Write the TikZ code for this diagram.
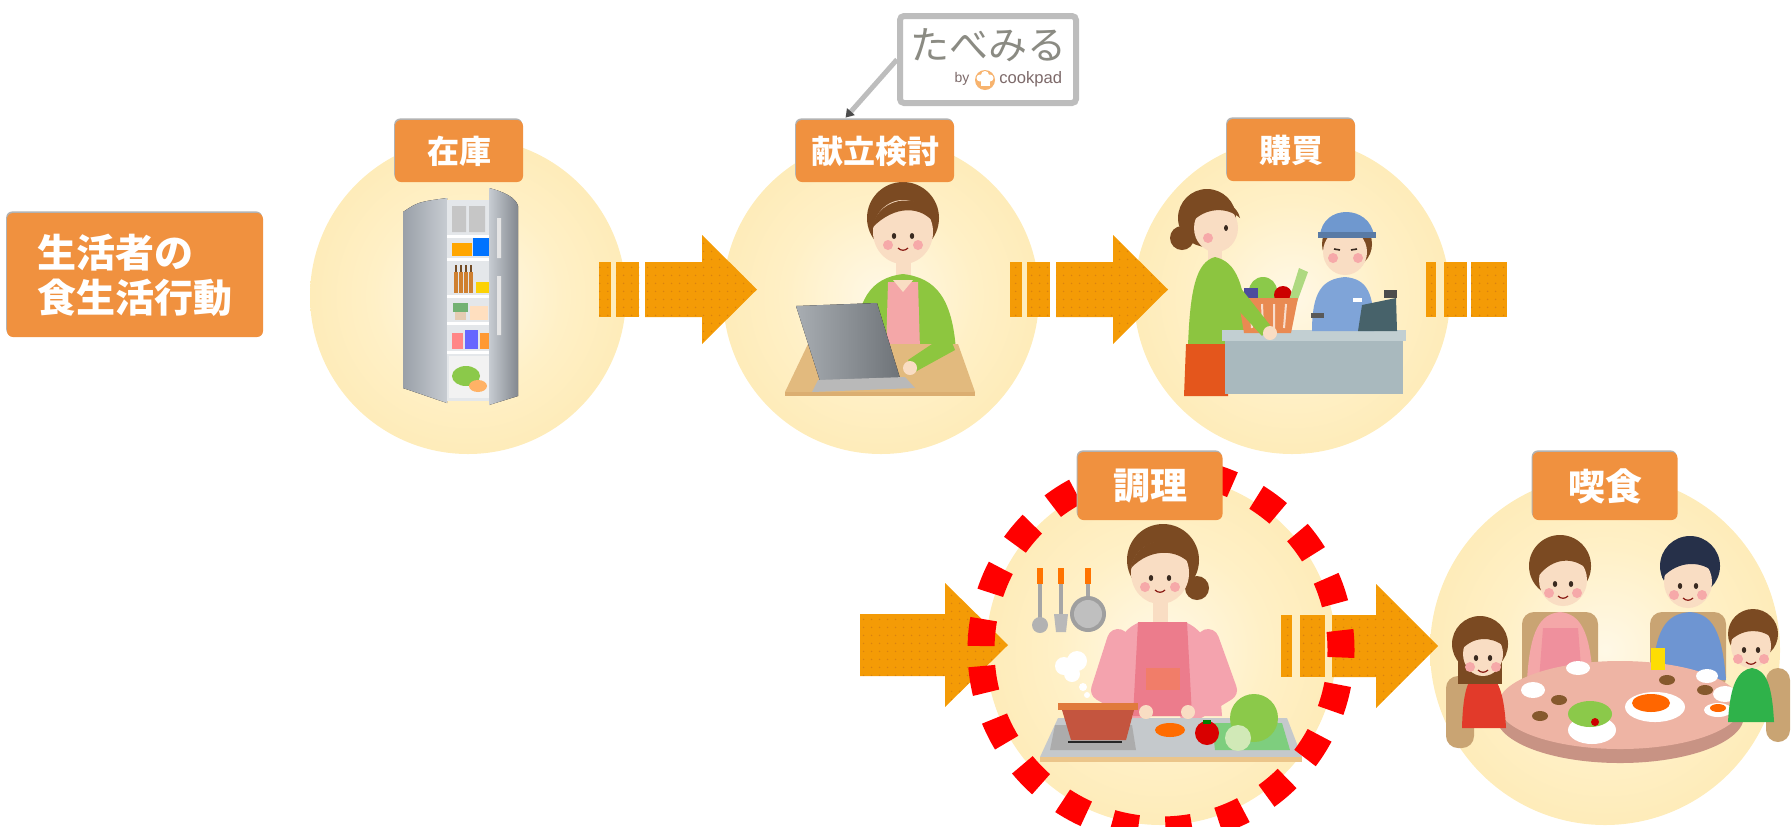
\documentclass[tikz,border=0pt]{standalone}
\usepackage{fontspec}
\newfontfamily\jpfont{Noto Sans CJK JP}
\newfontfamily\cpfont{Liberation Sans}
\usetikzlibrary{calc,arrows.meta,patterns.meta,shadows}

% palette
\definecolor{boxorange}{HTML}{F0913F}
\definecolor{arroworange}{HTML}{F49B06}
\definecolor{arrowdot}{HTML}{D9820F}
\definecolor{discin}{HTML}{FFF8E6}
\definecolor{discmid}{HTML}{FFF0C6}
\definecolor{discout}{HTML}{FCE19A}
\definecolor{ringred}{HTML}{FF0000}
\definecolor{tbgray}{HTML}{BDBDBD}
\definecolor{tbtext}{HTML}{8B8B83}
\definecolor{cptext}{HTML}{7D6A6A}
\definecolor{cporange}{HTML}{F7B36E}
\definecolor{skin}{HTML}{F9DDC3}
\definecolor{hairbrown}{HTML}{7B4A22}
\definecolor{hairdark}{HTML}{263049}
\definecolor{cardigan}{HTML}{8DC63F}
\definecolor{pinktop}{HTML}{F4A7A8}
\definecolor{laptopdark}{HTML}{6E7378}
\definecolor{laptoplight}{HTML}{A8ADB2}
\definecolor{tabletan}{HTML}{E2BA7E}
\definecolor{shopgreen}{HTML}{8CC540}
\definecolor{skirtorange}{HTML}{E4561C}
\definecolor{countertop}{HTML}{C2CFD2}
\definecolor{counterbody}{HTML}{A9B9BE}
\definecolor{clerkblue}{HTML}{7FA4D8}
\definecolor{capblue}{HTML}{6F98CF}
\definecolor{register}{HTML}{47626A}
\definecolor{basketorange}{HTML}{E98A52}
\definecolor{leafgreen}{HTML}{8BC94A}
\definecolor{shirtpink}{HTML}{F4A3AE}
\definecolor{apronpink}{HTML}{EC7C8C}
\definecolor{countergray}{HTML}{C5C9CC}
\definecolor{countertan}{HTML}{EBC58A}
\definecolor{potred}{HTML}{C4553F}
\definecolor{potrim}{HTML}{E07A3C}
\definecolor{tabletop}{HTML}{EEB4A4}
\definecolor{tablerim}{HTML}{C89384}
\definecolor{chairtan}{HTML}{C9A473}
\definecolor{girlred}{HTML}{E23A2A}
\definecolor{boygreen}{HTML}{2FB24A}
\definecolor{dadblue}{HTML}{6E95D2}
\definecolor{fridgeA}{HTML}{9AA0A8}
\definecolor{fridgeB}{HTML}{C7CCD2}
\definecolor{fridgein}{HTML}{E4E7EA}
\definecolor{eyecol}{HTML}{3A2A20}
\definecolor{cheek}{HTML}{F6A9A9}

\pgfdeclareradialshading{disc}{\pgfpoint{0bp}{0bp}}{color(0bp)=(discin); color(15bp)=(discmid); color(50bp)=(discout)}

% a pair of eyes and cheeks on a face centred at (#1,#2)
\newcommand{\eyepair}[3]{%
  \fill[cheek] (#1-#3-6,#2+9) circle (5) (#1+#3+6,#2+9) circle (5);
  \fill[eyecol] (#1-#3,#2) ellipse (2.2 and 3) (#1+#3,#2) ellipse (2.2 and 3);
  \draw[eyecol!60!red, line width=0.6pt] (#1-5,#2+12) .. controls (#1-2,#2+15) and (#1+2,#2+15) .. (#1+5,#2+12);}

\begin{document}
\begin{tikzpicture}[x=0.5pt,y=-0.5pt,
  stagedisc/.style={circle, minimum size=#1, inner sep=0pt, shade, shading=disc},
  arrowfill/.style={fill=arroworange, postaction={pattern={Dots[distance=4pt,radius=0.45pt]}, pattern color=arrowdot}},
  stagelabel/.style={fill=boxorange, rounded corners=3pt, text=white, inner sep=0pt,
    font=\jpfont\bfseries\fontsize{16}{16}\selectfont, minimum width=64pt, minimum height=31pt,
    general shadow={fill=black!30, shadow xshift=-0.4pt, shadow yshift=0.8pt}},
  stagelabelbig/.style={stagelabel, font=\jpfont\bfseries\fontsize{18.5}{18.5}\selectfont,
    minimum width=72.5pt, minimum height=34pt},
  ring/.style={ringred, line width=13.5pt, dash pattern=on 13.5pt off 13.6pt},
  chair/.style={fill=chairtan, rounded corners=6pt}
]
\useasboundingbox (0,0) rectangle (1791,826);

% ---------- discs ----------
\node[stagedisc=158pt] (c1) at (468,296) {};
\node[stagedisc=158pt] (c2) at (881,296) {};
\node[stagedisc=158pt] (c3) at (1292,296) {};
\node[stagedisc=175pt] (c4) at (1161,650) {};
\node[stagedisc=175pt] (c5) at (1605,650) {};

% ---------- refrigerator ----------
\fill[left color=fridgeA, right color=fridgeB] (403,212) .. controls (418,202) .. (447,198) -- (447,403) -- (403,388) -- cycle;
\fill[fridgein] (447,200) rectangle (490,401);
\fill[gray!45] (452,206) rectangle (466,232) (469,206) rectangle (485,232);
\draw[white, line width=1.5pt] (447,236) -- (490,236) (447,259) -- (490,259) (447,296) -- (490,296) (447,323) -- (490,323) (447,352) -- (490,352);
\fill[orange!70!yellow] (452,243) rectangle (472,256);
\fill[blue!55!cyan] (473,238) rectangle (489,256);
\foreach \k in {0,1,2,3} {\fill[brown!75!orange] (454+\k*5,272) rectangle (458+\k*5,293); \fill[brown!60!black] (455+\k*5,265) rectangle (457+\k*5,272);}
\fill[yellow!70!orange] (476,282) rectangle (489,293);
\fill[green!45!black!55] (453,303) rectangle (468,312);
\fill[brown!40!white] (455,312) rectangle (466,320);
\fill[orange!25!white] (470,306) rectangle (488,320);
\fill[pink!70!red] (452,333) rectangle (463,349);
\fill[blue!60] (465,330) rectangle (478,349);
\fill[orange!80] (480,333) rectangle (489,349);
\fill[white!90!gray] (449,356) rectangle (489,398);
\fill[leafgreen] (466,376) ellipse (14 and 10);
\fill[orange!60!white] (478,386) ellipse (9 and 6);
\fill[left color=fridgeB, right color=fridgeA!85!black] (489,188) .. controls (505,192) and (516,198) .. (518,206) -- (518,396) -- (489,405) -- cycle;
\fill[white!80!gray] (497,218) rectangle (501,258) (497,276) rectangle (501,335);

% ---------- menu planning at the laptop ----------
\fill[hairbrown] (903,218) circle (36);
\fill[skin] (903,232) ellipse (30 and 32);
\fill[hairbrown] (872,228) .. controls (878,194) and (928,190) .. (935,224) .. controls (922,206) and (895,204) .. (872,228) -- cycle;
\eyepair{903}{236}{9}
\fill[skin] (896,258) rectangle (911,280);
\fill[cardigan] (855,350) .. controls (856,300) and (870,278) .. (903,274) .. controls (936,278) and (952,298) .. (956,350) -- cycle;
\fill[pinktop] (888,282) -- (918,282) -- (920,350) -- (886,350) -- cycle;
\fill[skin] (893,280) -- (913,280) -- (903,292) -- cycle;
\fill[tabletan] (785,392) -- (975,392) -- (958,344) -- (808,344) -- cycle;
\fill[tabletan!80!brown] (785,392) rectangle (975,396);
\fill[left color=laptoplight, right color=laptopdark] (796,306) -- (877,303) -- (900,378) -- (820,381) -- cycle;
\fill[gray!55] (818,380) -- (905,377) -- (915,388) -- (812,392) -- cycle;
\fill[cardigan] (935,300) -- (955,350) -- (915,372) -- (908,360) -- (935,342) -- (925,310) -- cycle;
\fill[skin] (910,368) circle (7);

% ---------- shopping at the counter ----------
\fill[hairbrown] (1182,238) circle (12);
\fill[hairbrown] (1207,218) circle (29);
\fill[skin] (1216,228) ellipse (22 and 24);
\fill[hairbrown] (1192,222) .. controls (1196,196) and (1234,194) .. (1240,218) .. controls (1226,206) and (1205,208) .. (1192,222) -- cycle;
\fill[cheek] (1208,238) circle (5);
\fill[eyecol] (1226,228) ellipse (2 and 3);
\fill[skin] (1208,248) rectangle (1222,262);
\fill[shopgreen] (1188,346) .. controls (1190,290) and (1196,262) .. (1215,257) .. controls (1236,262) and (1246,282) .. (1248,346) -- cycle;
\fill[skirtorange] (1186,344) -- (1228,344) -- (1228,396) -- (1184,396) -- cycle;
\fill[countertop] (1222,330) rectangle (1406,341);
\fill[counterbody] (1225,341) rectangle (1403,394);
\fill[clerkblue] (1312,331) .. controls (1312,292) and (1322,279) .. (1345,277) .. controls (1368,279) and (1374,294) .. (1374,331) -- cycle;
\fill[hairbrown] (1347,244) circle (25);
\fill[skin] (1345,252) ellipse (22 and 23);
\fill[capblue] (1320,236) .. controls (1322,204) and (1370,204) .. (1374,236) -- cycle;
\fill[capblue!80!black] (1318,232) rectangle (1376,238);
\fill[cheek] (1333,258) circle (5) (1358,258) circle (5);
\draw[eyecol, line width=0.8pt] (1334,249) -- (1340,250) (1351,250) -- (1357,249);
\fill[white] (1353,298) rectangle (1362,302);
\fill[register] (1358,331) -- (1362,305) -- (1396,298) -- (1397,331) -- cycle;
\fill[gray!60!black] (1384,290) rectangle (1397,298);
\fill[gray!70!black] (1311,313) rectangle (1324,318);
\fill[leafgreen] (1263,291) circle (14);
\fill[red!80!black] (1283,295) circle (9);
\fill[blue!45!black!70] (1244,288) rectangle (1258,301);
\fill[leafgreen!70!white] (1289,300) -- (1299,268) -- (1308,272) -- (1297,302) -- cycle;
\fill[basketorange] (1238,298) -- (1298,298) -- (1291,333) -- (1244,333) -- cycle;
\draw[white!70!basketorange, line width=1pt] (1250,304) -- (1252,328) (1262,304) -- (1263,328) (1274,304) -- (1274,328) (1286,304) -- (1284,328);
\fill[shopgreen] (1228,272) -- (1270,325) -- (1262,336) -- (1220,290) -- cycle;
\fill[skin] (1270,333) circle (7);

% ---------- cooking ----------
\draw[gray!70, line width=2pt] (1040,572) -- (1040,618) (1061,572) -- (1061,615) (1088,572) -- (1088,598);
\draw[orange!90!red, line width=3pt] (1040,568) -- (1040,584) (1061,568) -- (1061,584) (1088,568) -- (1088,584);
\fill[gray!60] (1040,625) circle (8);
\fill[gray!55] (1054,614) -- (1068,614) -- (1066,632) -- (1056,632) -- cycle;
\fill[gray!75] (1088,614) circle (18);
\fill[gray!50] (1088,614) circle (14);
\fill[hairbrown] (1163,560) circle (36);
\fill[hairbrown] (1197,588) circle (12);
\fill[skin] (1160,573) ellipse (29 and 31);
\fill[hairbrown] (1131,568) .. controls (1136,534) and (1186,530) .. (1192,566) .. controls (1178,548) and (1150,548) .. (1131,568) -- cycle;
\eyepair{1160}{578}{9}
\fill[skin] (1153,600) rectangle (1168,624);
\fill[shirtpink] (1110,716) .. controls (1108,662) and (1114,632) .. (1140,622) -- (1185,622) .. controls (1210,632) and (1218,662) .. (1222,716) -- cycle;
\draw[shirtpink, line width=11pt, line cap=round, line join=round] (1118,640) -- (1102,690) -- (1140,712);
\draw[shirtpink, line width=11pt, line cap=round, line join=round] (1208,640) -- (1226,690) -- (1190,712);
\fill[apronpink] (1138,622) -- (1187,622) -- (1192,716) -- (1133,716) -- cycle;
\fill[apronpink!75!orange] (1146,668) rectangle (1180,690);
\fill[countergray] (1058,718) -- (1287,718) -- (1302,757) -- (1040,757) -- cycle;
\fill[countertan] (1040,757) rectangle (1302,762);
\fill[gray!55!green!70] (1212,723) -- (1282,723) -- (1290,750) -- (1215,750) -- cycle;
\fill[gray!65] (1055,725) -- (1132,725) -- (1136,750) -- (1050,750) -- cycle;
\draw[gray!30!black, line width=1pt] (1068,742) -- (1122,742);
\fill[potrim] (1058,703) rectangle (1138,710);
\fill[potred] (1062,710) -- (1134,710) -- (1126,740) -- (1071,740) -- cycle;
\fill[white] (1064,666) circle (9) (1077,661) circle (10) (1072,674) circle (8) (1083,687) circle (4) (1087,695) circle (3);
\fill[skin] (1146,712) circle (7) (1188,712) circle (7);
\fill[orange!85!red] (1170,730) ellipse (15 and 7);
\fill[red!85!black] (1207,733) circle (12);
\fill[green!50!black] (1203,720) rectangle (1211,724);
\fill[leafgreen] (1254,718) circle (24);
\fill[leafgreen!40!white] (1238,738) circle (13);

% ---------- family meal ----------
\fill[chair] (1522,612) rectangle (1598,690);
\fill[chair] (1650,612) rectangle (1726,690);
\fill[chair] (1446,676) rectangle (1474,748);
\fill[chair] (1766,668) rectangle (1790,742);
\fill[pinktop] (1527,680) .. controls (1530,630) and (1540,614) .. (1560,612) .. controls (1580,614) and (1590,630) .. (1593,680) -- cycle;
\fill[apronpink!85!white] (1543,628) -- (1578,628) -- (1582,680) -- (1539,680) -- cycle;
\fill[hairbrown] (1560,566) circle (31);
\fill[skin] (1563,580) ellipse (24 and 26);
\fill[hairbrown] (1537,578) .. controls (1540,546) and (1584,542) .. (1590,572) .. controls (1576,556) and (1552,556) .. (1537,578) -- cycle;
\eyepair{1563}{584}{8}
\fill[dadblue] (1652,680) .. controls (1655,630) and (1665,614) .. (1690,612) .. controls (1712,614) and (1722,630) .. (1726,680) -- cycle;
\fill[hairdark] (1690,566) circle (30);
\fill[skin] (1688,582) ellipse (24 and 26);
\fill[hairdark] (1662,578) .. controls (1664,548) and (1712,544) .. (1716,574) .. controls (1702,560) and (1678,560) .. (1662,578) -- cycle;
\eyepair{1688}{586}{8}
\fill[tablerim] (1620,716) ellipse (124 and 47);
\fill[tabletop] (1620,705) ellipse (122 and 44);
\fill[white] (1533,690) ellipse (12 and 8) (1578,668) ellipse (12 and 7) (1707,676) ellipse (11 and 7) (1725,694) ellipse (12 and 8);
\fill[brown!70!black] (1559,700) ellipse (8 and 5) (1667,680) ellipse (8 and 5) (1705,690) ellipse (8 and 5) (1540,716) ellipse (8 and 5);
\fill[yellow!80!orange] (1651,648) rectangle (1665,670);
\fill[white] (1592,730) ellipse (24 and 14);
\fill[leafgreen] (1590,714) ellipse (22 and 13);
\fill[red!80!black] (1595,722) circle (4);
\fill[white] (1655,707) ellipse (30 and 15);
\fill[orange!80!red] (1651,703) ellipse (19 and 9);
\fill[white] (1718,710) ellipse (14 and 7);
\fill[orange!80!red] (1718,708) ellipse (8 and 4);
\fill[girlred] (1462,728) .. controls (1463,690) and (1468,674) .. (1482,672) .. controls (1497,674) and (1504,690) .. (1506,728) -- cycle;
\fill[hairbrown] (1480,644) circle (28);
\fill[hairbrown] (1458,648) rectangle (1502,684);
\fill[skin] (1483,654) ellipse (20 and 22);
\fill[hairbrown] (1461,650) .. controls (1464,626) and (1500,622) .. (1504,646) .. controls (1490,636) and (1474,636) .. (1461,650) -- cycle;
\eyepair{1483}{658}{7}
\fill[boygreen] (1728,722) .. controls (1730,684) and (1738,670) .. (1752,668) .. controls (1766,670) and (1772,684) .. (1774,722) -- cycle;
\fill[hairbrown] (1753,634) circle (25);
\fill[skin] (1751,646) ellipse (20 and 22);
\fill[hairbrown] (1731,640) .. controls (1734,618) and (1770,614) .. (1775,640) .. controls (1762,628) and (1744,628) .. (1731,640) -- cycle;
\eyepair{1751}{650}{7}

% ---------- arrows ----------
\fill[arrowfill] (599,262) rectangle (611,317);
\fill[arrowfill] (616,262) rectangle (639,317);
\fill[arrowfill] (645,262) -- (702,262) -- (702,235) -- (757,289.5) -- (702,344) -- (702,317) -- (645,317) -- cycle;
\fill[arrowfill] (1010,262) rectangle (1022,317);
\fill[arrowfill] (1027,262) rectangle (1050,317);
\fill[arrowfill] (1056,262) -- (1113,262) -- (1113,235) -- (1168,289.5) -- (1113,344) -- (1113,317) -- (1056,317) -- cycle;
\fill[arrowfill] (1426,262) rectangle (1436,317);
\fill[arrowfill] (1444,262) rectangle (1467,317);
\fill[arrowfill] (1471,262) rectangle (1507,317);
\fill[arrowfill] (860,614) -- (945,614) -- (945,583) -- (1008,645) -- (945,707) -- (945,676) -- (860,676) -- cycle;
\fill[arrowfill] (1281,615) rectangle (1292,677);
\fill[arrowfill] (1300,615) rectangle (1325,677);
\fill[arrowfill] (1332,615) -- (1376,615) -- (1376,584) -- (1438,646) -- (1376,708) -- (1376,677) -- (1332,677) -- cycle;

% ---------- highlighted step ----------
\draw[ring, dash phase=-2pt] ($(c4.center)+(-180,0)$) arc[start angle=180, end angle=540, radius=180];

% ---------- step labels ----------
\node[stagelabel] (lz) at (459,151) {在庫};
\node[stagelabel, minimum width=79pt] (kd) at (875,151) {献立検討};
\node[stagelabel] (kb) at (1291,150) {購買};
\node[stagelabelbig] (cr) at (1150,486) {調理};
\node[stagelabelbig] (ks) at (1605,486) {喫食};

\node[fill=boxorange, rounded corners=3pt, text=white, inner sep=0pt, align=left,
  minimum width=128pt, minimum height=62pt,
  general shadow={fill=black!30, shadow xshift=-0.4pt, shadow yshift=0.8pt},
  font=\jpfont\bfseries\fontsize{19.5}{22.5}\selectfont] (who) at (135,275) {生活者の\\食生活行動};

% ---------- service callout ----------
\node[draw=tbgray, line width=3pt, fill=white, rounded corners=2pt, minimum width=88pt, minimum height=43.5pt, inner sep=0pt] (tb) at (988,59.5) {};
\node[text=tbtext, font=\jpfont\fontsize{19.5}{19.5}\selectfont, inner sep=0pt] (tbname) at (988,45) {たべみる};
\node[text=cptext, font=\cpfont\fontsize{7}{7}\selectfont, inner sep=0pt] (tbby) at (962,79) {by};
\fill[cporange] (985,80) circle (10);
\fill[white] (980,78) circle (3.5) (985,75) circle (4) (990,78) circle (3.5);
\fill[white] (980.5,78) rectangle (989.5,86);
\node[text=cptext, font=\cpfont\fontsize{8.3}{8.3}\selectfont, inner sep=0pt, anchor=west] (tbcp) at (999,79) {cookpad};
\draw[tbgray, line width=2.5pt, -{Triangle[length=4pt,width=5pt,color=gray!60!black]}] (tb.west) -- ($(kd.north west)+(50,-2)$);
\end{tikzpicture}
\end{document}
